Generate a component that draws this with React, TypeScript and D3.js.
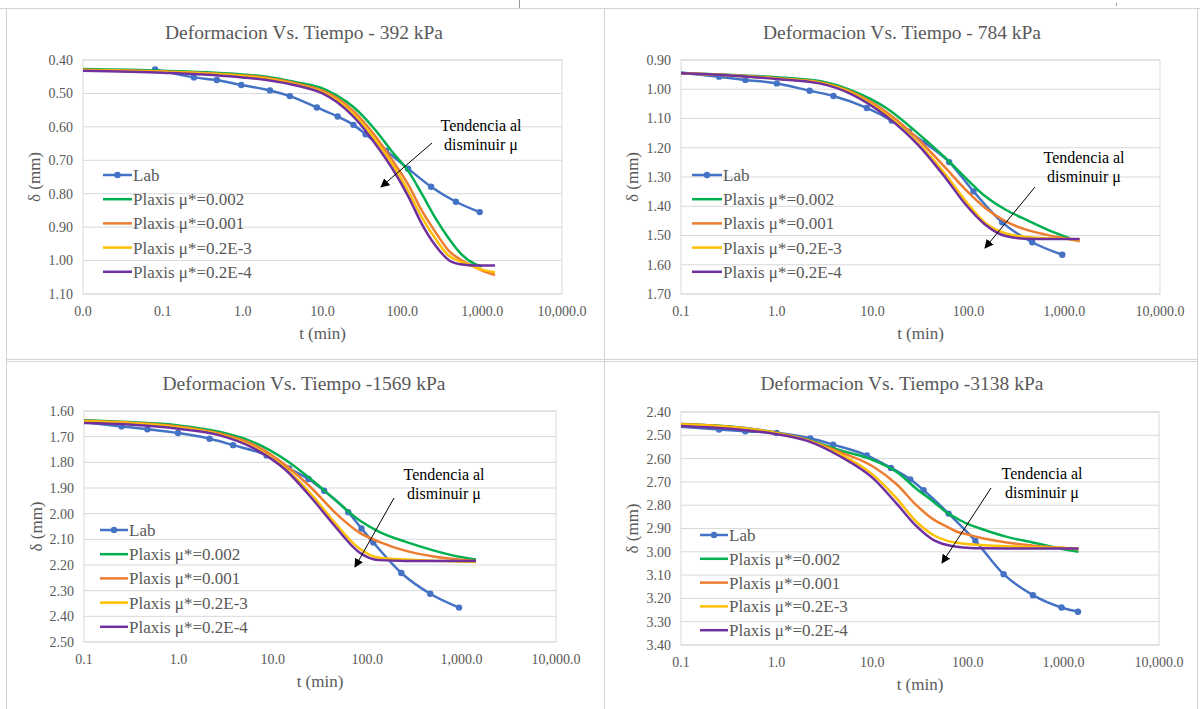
import * as d3 from 'd3';

const SERIES = ['Lab', 'Plaxis μ*=0.002', 'Plaxis μ*=0.001', 'Plaxis μ*=0.2E-3', 'Plaxis μ*=0.2E-4'];
const COLORS = ['#4472C4', '#00B050', '#ED7D31', '#FFC000', '#7030A0'];

// ---- 392 kPa ----
const labT392 = [0.08, 0.245, 0.475, 0.96, 2.2, 3.9, 8.5, 15.5, 24.4, 34.7, 62, 118, 229, 469, 931];
const labD392 = [0.428, 0.452, 0.46, 0.475, 0.491, 0.508, 0.542, 0.569, 0.594, 0.622, 0.671, 0.725, 0.779, 0.824, 0.855];
const plxT392 = [0.01, 0.1, 1, 2, 5, 10, 15, 25, 45, 75, 120, 175, 260, 380, 560, 820, 1000, 1450];
const mu002_392 = [0.427, 0.432, 0.443, 0.45, 0.468, 0.485, 0.506, 0.543, 0.607, 0.675, 0.734, 0.8, 0.873, 0.933, 0.983, 1.011, 1.017, null];
const mu001_392 = [0.429, 0.434, 0.446, 0.453, 0.472, 0.492, 0.513, 0.555, 0.625, 0.7, 0.775, 0.85, 0.915, 0.97, 1.0, 1.02, 1.03, 1.043];
const mu2e3_392 = [0.43, 0.436, 0.448, 0.456, 0.476, 0.497, 0.52, 0.565, 0.637, 0.712, 0.795, 0.87, 0.935, 0.985, 1.005, 1.02, 1.027, 1.035];
const mu2e4_392 = [0.432, 0.438, 0.452, 0.46, 0.478, 0.5, 0.525, 0.572, 0.648, 0.725, 0.81, 0.89, 0.955, 0.998, 1.012, 1.015, 1.015, 1.015];

// ---- 784 kPa ----
const labT784 = [0.08, 0.25, 0.47, 1.0, 2.2, 3.9, 8.7, 15.8, 24, 35, 63, 113, 225, 464, 956];
const labD784 = [0.94, 0.957, 0.968, 0.98, 1.005, 1.023, 1.064, 1.107, 1.145, 1.183, 1.249, 1.349, 1.455, 1.523, 1.566];
const plxT784 = [0.1, 0.3, 1, 2.8, 6.2, 14, 31, 58, 94, 150, 245, 400, 640, 1150, 1450];
const mu002_784 = [0.945, 0.95, 0.959, 0.972, 1.006, 1.065, 1.156, 1.236, 1.304, 1.366, 1.412, 1.446, 1.477, 1.51, null];
const mu001_784 = [0.945, 0.951, 0.962, 0.976, 1.011, 1.079, 1.176, 1.27, 1.344, 1.406, 1.452, 1.48, 1.497, 1.513, 1.52];
const mu2e3_784 = [0.945, 0.952, 0.964, 0.978, 1.015, 1.088, 1.19, 1.292, 1.383, 1.457, 1.493, 1.505, 1.509, 1.512, 1.514];
const mu2e4_784 = [0.945, 0.952, 0.965, 0.98, 1.019, 1.093, 1.196, 1.304, 1.395, 1.463, 1.502, 1.511, 1.512, 1.512, 1.512];

// ---- 1569 kPa ----
const labT1569 = [0.08, 0.25, 0.47, 0.99, 2.14, 3.8, 8.6, 14.9, 23.9, 35, 63, 87, 116, 230, 465, 940];
const labD1569 = [1.64, 1.66, 1.671, 1.686, 1.708, 1.733, 1.773, 1.824, 1.865, 1.911, 1.994, 2.058, 2.112, 2.231, 2.312, 2.366];
const plxT1569 = [0.1, 0.3, 1, 2.7, 6.1, 13.7, 26, 46, 82, 134, 257, 490, 940, 1420];
const mu002_1569 = [1.636, 1.643, 1.656, 1.681, 1.72, 1.791, 1.869, 1.947, 2.025, 2.071, 2.11, 2.142, 2.168, 2.179];
const mu001_1569 = [1.638, 1.645, 1.66, 1.687, 1.729, 1.811, 1.902, 1.997, 2.073, 2.11, 2.145, 2.166, 2.179, 2.184];
const mu2e3_1569 = [1.64, 1.647, 1.664, 1.691, 1.739, 1.824, 1.928, 2.038, 2.135, 2.172, 2.179, 2.183, 2.186, 2.188];
const mu2e4_1569 = [1.647, 1.653, 1.669, 1.694, 1.743, 1.83, 1.941, 2.051, 2.15, 2.181, 2.184, 2.184, 2.184, 2.184];

// ---- 3138 kPa ----
const labT3138 = [0.08, 0.25, 0.47, 1.0, 2.25, 3.9, 8.8, 15.7, 25, 34.5, 63, 120, 237, 480, 955, 1420];
const labD3138 = [2.46, 2.475, 2.483, 2.49, 2.513, 2.54, 2.586, 2.64, 2.689, 2.736, 2.836, 2.953, 3.096, 3.186, 3.239, 3.257];
const plxT3138 = [0.1, 0.42, 0.93, 2.1, 4.6, 10.3, 18, 29, 44, 61, 77, 98, 135, 257, 490, 930, 1440];
const mu002_3138 = [2.452, 2.467, 2.486, 2.519, 2.564, 2.607, 2.657, 2.729, 2.786, 2.833, 2.857, 2.879, 2.9, 2.936, 2.961, 2.986, 3.0];
const mu001_3138 = [2.452, 2.468, 2.487, 2.52, 2.572, 2.635, 2.71, 2.8, 2.862, 2.893, 2.914, 2.925, 2.94, 2.96, 2.974, 2.983, 2.989];
const mu2e3_3138 = [2.453, 2.469, 2.489, 2.522, 2.581, 2.671, 2.771, 2.871, 2.929, 2.953, 2.961, 2.967, 2.971, 2.976, 2.98, 2.983, 2.986];
const mu2e4_3138 = [2.46, 2.476, 2.493, 2.524, 2.59, 2.686, 2.793, 2.89, 2.95, 2.971, 2.978, 2.983, 2.985, 2.986, 2.986, 2.986, 2.986];

const xTicksA = [0.01, 0.1, 1, 10, 100, 1000, 10000];
const xTicksB = [0.1, 1, 10, 100, 1000, 10000];
const yTicks392 = [0.4, 0.5, 0.6, 0.7, 0.8, 0.9, 1.0, 1.1];
const yTicks784 = [0.9, 1.0, 1.1, 1.2, 1.3, 1.4, 1.5, 1.6, 1.7];
const yTicks1569 = [1.6, 1.7, 1.8, 1.9, 2.0, 2.1, 2.2, 2.3, 2.4, 2.5];
const yTicks3138 = [2.4, 2.5, 2.6, 2.7, 2.8, 2.9, 3.0, 3.1, 3.2, 3.3, 3.4];

const SERIF = '"Liberation Serif", "DejaVu Serif", serif';
const TXT = { fontFamily: SERIF };
const GRAY = '#595959';
const GRID = '#d9d9d9';
const fmtX = d3.format(',.1f');
const fmtY = d3.format('.2f');

const panels = [
  {
    id: 'p1', title: 'Deformacion Vs. Tiempo - 392 kPa', titleX: 304, titleY: 32,
    plot: { left: 83, right: 562, top: 60, bottom: 294 }, yLabelX: 34,
    xTicks: xTicksA, yTicks: yTicks392, labT: labT392, labD: labD392, plxT: plxT392,
    plx: [mu002_392, mu001_392, mu2e3_392, mu2e4_392],
    legend: { x0: 103, x1: 132, y0: 175, step: 24.2 },
    note: { x: 481, y: 125, ax0: 432, ay0: 143, ax1: 381, ay1: 187 },
  },
  {
    id: 'p2', title: 'Deformacion Vs. Tiempo - 784 kPa', titleX: 902, titleY: 32,
    plot: { left: 681, right: 1160, top: 60, bottom: 294 }, yLabelX: 632,
    xTicks: xTicksB, yTicks: yTicks784, labT: labT784, labD: labD784, plxT: plxT784,
    plx: [mu002_784, mu001_784, mu2e3_784, mu2e4_784],
    legend: { x0: 692, x1: 722, y0: 175, step: 24.2 },
    note: { x: 1084, y: 157, ax0: 1035, ay0: 187, ax1: 985, ay1: 248 },
  },
  {
    id: 'p3', title: 'Deformacion Vs. Tiempo -1569 kPa', titleX: 304, titleY: 383,
    plot: { left: 84, right: 556, top: 411, bottom: 642 }, yLabelX: 36,
    xTicks: xTicksB, yTicks: yTicks1569, labT: labT1569, labD: labD1569, plxT: plxT1569,
    plx: [mu002_1569, mu001_1569, mu2e3_1569, mu2e4_1569],
    legend: { x0: 100, x1: 128, y0: 530, step: 24.2 },
    note: { x: 444, y: 474, ax0: 394, ay0: 498, ax1: 355, ay1: 567 },
  },
  {
    id: 'p4', title: 'Deformacion Vs. Tiempo -3138 kPa', titleX: 902, titleY: 383,
    plot: { left: 681, right: 1159, top: 412, bottom: 645 }, yLabelX: 632,
    xTicks: xTicksB, yTicks: yTicks3138, labT: labT3138, labD: labD3138, plxT: plxT3138,
    plx: [mu002_3138, mu001_3138, mu2e3_3138, mu2e4_3138],
    legend: { x0: 700, x1: 728, y0: 535, step: 23.8 },
    note: { x: 1042, y: 473, ax0: 991, ay0: 488, ax1: 942, ay1: 563 },
  },
];

function Panel({ p }: { p: any }) {
  const { plot } = p;
  const x = d3.scaleLog()
    .domain([p.xTicks[0], p.xTicks[p.xTicks.length - 1]])
    .range([plot.left, plot.right]);
  const y = d3.scaleLinear()
    .domain([p.yTicks[0], p.yTicks[p.yTicks.length - 1]])
    .range([plot.top, plot.bottom]);
  const line = d3.line<[number, number | null]>()
    .defined((d) => d[1] != null)
    .x((d) => x(d[0]))
    .y((d) => y(d[1] as number))
    .curve(d3.curveMonotoneX);

  const lab: [number, number][] = p.labT.map((t: number, i: number) => [t, p.labD[i]]);
  const plx = p.plx.map((vals: (number | null)[]) =>
    p.plxT.map((t: number, i: number) => [t, vals[i]] as [number, number | null]),
  );
  const midY = (plot.top + plot.bottom) / 2;
  const midX = (plot.left + plot.right) / 2;
  const { legend, note } = p;

  return (
    <g>
      <defs>
        <clipPath id={`clip-${p.id}`}>
          <rect x={plot.left} y={plot.top - 3} width={plot.right - plot.left + 4} height={plot.bottom - plot.top + 6} />
        </clipPath>
      </defs>
      <text style={TXT} x={p.titleX} y={p.titleY} dy="0.35em" textAnchor="middle" fontSize={19.5} fill={GRAY}>
        {p.title}
      </text>
      {p.yTicks.map((v: number) => (
        <g key={v}>
          <line x1={plot.left} x2={plot.right} y1={y(v)} y2={y(v)} stroke={GRID} strokeWidth={1} />
          <text style={TXT} x={plot.left - 10} y={y(v)} dy="0.35em" textAnchor="end" fontSize={14} fill={GRAY}>
            {fmtY(v)}
          </text>
        </g>
      ))}
      <rect x={plot.left} y={plot.top} width={plot.right - plot.left} height={plot.bottom - plot.top}
        fill="none" stroke={GRID} strokeWidth={1} />
      {p.xTicks.map((t: number) => (
        <text style={TXT} key={t} x={x(t)} y={plot.bottom + 17} dy="0.35em" textAnchor="middle" fontSize={14} fill={GRAY}>
          {fmtX(t)}
        </text>
      ))}
      <text style={TXT} x={midX} y={plot.bottom + 39} dy="0.35em" textAnchor="middle" fontSize={17} fill={GRAY}>t (min)</text>
      <text style={TXT} transform={`translate(${p.yLabelX},${midY}) rotate(-90)`} dy="0.35em" textAnchor="middle" fontSize={17} fill={GRAY}>
        δ (mm)
      </text>

      <g clipPath={`url(#clip-${p.id})`}>
        <path d={line(lab) || ''} fill="none" stroke={COLORS[0]} strokeWidth={2.5} />
        {lab.map((d, i) => (
          <circle key={i} cx={x(d[0])} cy={y(d[1])} r={3.2} fill={COLORS[0]} />
        ))}
        {plx.map((s: [number, number | null][], k: number) => (
          <path key={k} d={line(s) || ''} fill="none" stroke={COLORS[k + 1]} strokeWidth={2.5} />
        ))}
      </g>

      {SERIES.map((name, i) => {
        const ly = legend.y0 + i * legend.step;
        return (
          <g key={name}>
            <line x1={legend.x0} x2={legend.x1} y1={ly} y2={ly} stroke={COLORS[i]} strokeWidth={2.5} />
            {i === 0 && <circle cx={(legend.x0 + legend.x1) / 2} cy={ly} r={3.2} fill={COLORS[0]} />}
            <text style={TXT} x={legend.x1 + 1} y={ly} dy="0.35em" fontSize={17} fill={GRAY}>{name}</text>
          </g>
        );
      })}

      <text style={TXT} x={note.x} y={note.y} dy="0.35em" textAnchor="middle" fontSize={16} fill="#000">Tendencia al</text>
      <text style={TXT} x={note.x} y={note.y + 19} dy="0.35em" textAnchor="middle" fontSize={16} fill="#000">disminuir μ</text>
      <line x1={note.ax0} y1={note.ay0} x2={note.ax1} y2={note.ay1} stroke="#000" strokeWidth={1}
        markerEnd="url(#arrowhead)" />
    </g>
  );
}

export default function App() {
  return (
    <svg width={1200} height={709}
      style={{ position: 'absolute', left: 0, top: 0, background: '#fff', display: 'block', fontFamily: SERIF }}>
      <defs>
        <marker id="arrowhead" viewBox="0 0 10 10" refX={9} refY={5} markerWidth={9} markerHeight={9}
          markerUnits="userSpaceOnUse" orient="auto">
          <path d="M0,0 L10,5 L0,10 Z" fill="#000" />
        </marker>
      </defs>
      <rect x={0} y={0} width={1200} height={709} fill="#fff" />
      {/* table cell borders */}
      <g stroke="#d4d4d4" strokeWidth={1} fill="none">
        <line x1={0} x2={1200} y1={8.5} y2={8.5} />
        <line x1={6.5} x2={6.5} y1={8} y2={709} />
        <line x1={604.5} x2={604.5} y1={8} y2={709} />
        <line x1={1197.5} x2={1197.5} y1={8} y2={709} />
        <line x1={6} x2={1198} y1={359.5} y2={359.5} />
        <line x1={6} x2={1198} y1={361.5} y2={361.5} />
        <line x1={519.5} x2={519.5} y1={0} y2={8} stroke="#999" />
        <line x1={1116.5} x2={1116.5} y1={3} y2={6} stroke="#999" />
      </g>
      {panels.map((p) => (
        <Panel key={p.id} p={p} />
      ))}
    </svg>
  );
}
